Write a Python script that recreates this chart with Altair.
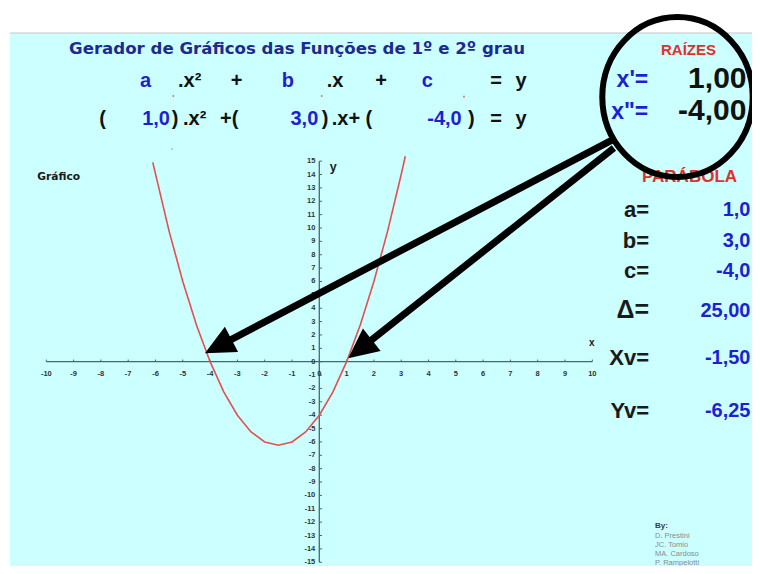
import math
import altair as alt
import pandas as pd

# ---------------- data ----------------
curve_x = [-6.1, -5.5, -5.0, -4.5, -4.0, -3.5, -3.0, -2.5, -2.0, -1.5, -1.0,
           -0.5, 0.0, 0.5, 1.0, 1.5, 2.0, 2.5, 3.0, 3.15]
curve_y = [14.91, 9.75, 6.0, 2.75, 0.0, -2.25, -4.0, -5.25, -6.0, -6.25, -6.0,
           -5.25, -4.0, -2.25, 0.0, 2.75, 6.0, 9.75, 14.0, 15.37]
x_ticks = list(range(-10, 11))
y_ticks = list(range(-15, 16))

title = "Gerador de Gráficos das Funções de 1º e 2º grau"
coef_a, coef_b, coef_c = "1,0", "3,0", "-4,0"
root_labels = ["x'=", 'x"=']
root_values = ["1,00", "-4,00"]
param_labels = ["a=", "b=", "c=", "Δ=", "Xv=", "Yv="]
param_values = ["1,0", "3,0", "-4,0", "25,00", "-1,50", "-6,25"]
authors = ["D. Prestini", "JC. Tomio", "MA. Cardoso", "P. Rampelotti"]

# arrows (data units): start near the circle, tip at the roots
arrow_start_x = [10.72, 10.79]
arrow_start_y = [16.58, 15.98]
arrow_tip_x = [-4.19, 1.06]
arrow_tip_y = [0.63, 0.25]

# ---------------- geometry ----------------
W, H = 744, 558
OFF = 8
X0, Y0 = 319.3 - OFF, 361.7 - OFF
PX, PY = 27.3, 13.37
xs = alt.Scale(domain=[-X0 / PX, (W - X0) / PX], nice=False, zero=False)
ys = alt.Scale(domain=[-(H - Y0) / PY, Y0 / PY], nice=False, zero=False)

AX = "#4e6666"
BLUE = "#1f1fd2"
NAVY = "#1d2b8f"
RED = "#e0302c"
ARIAL = "Liberation Sans"
TAHOMA = "DejaVu Sans"

layers = []

# background
bg = pd.DataFrame({"k": [0]})
layers.append(alt.Chart(bg).mark_rect(color="#ccffff").encode(
    x=alt.value(2), x2=alt.value(W), y=alt.value(33 - OFF), y2=alt.value(H)))
layers.append(alt.Chart(bg).mark_rule(color="#c4c4c4", strokeWidth=1).encode(
    x=alt.value(2), x2=alt.value(W), y=alt.value(33 - OFF)))


def X(f, **kw):
    return alt.X(f, type="quantitative", scale=xs, axis=None, **kw)


def Y(f, **kw):
    return alt.Y(f, type="quantitative", scale=ys, axis=None, **kw)


# axes
axdf = pd.DataFrame({"x1": [x_ticks[0], 0], "x2": [x_ticks[-1], 0],
                     "y1": [0, y_ticks[0]], "y2": [0, y_ticks[-1]]})
layers.append(alt.Chart(axdf).mark_rule(color=AX, strokeWidth=1.3).encode(
    x=X("x1"), x2="x2", y=Y("y1"), y2="y2"))

xt = pd.DataFrame({"v": x_ticks, "z": 0, "t": 0.16, "lab": [str(v) for v in x_ticks]})
yt = pd.DataFrame({"v": y_ticks, "z": 0, "t": 0.1, "lab": [str(v) for v in y_ticks]})
layers.append(alt.Chart(xt).mark_rule(color=AX, strokeWidth=1).encode(
    x=X("v"), y=Y("z"), y2="t"))
layers.append(alt.Chart(yt).mark_rule(color=AX, strokeWidth=1).encode(
    y=Y("v"), x=X("z"), x2="t"))
layers.append(alt.Chart(xt).mark_text(font=ARIAL, fontSize=7.5, fontWeight="bold",
                                      color="#333333", dy=12.5, baseline="middle").encode(
    x=X("v"), y=Y("z"), text="lab:N"))
layers.append(alt.Chart(yt).mark_text(font=ARIAL, fontSize=7.5, fontWeight="bold",
                                      color="#333333", dx=-4, align="right",
                                      baseline="middle").encode(
    x=X("z"), y=Y("v"), text="lab:N"))

# curve
cdf = pd.DataFrame({"x": curve_x, "y": curve_y, "o": range(len(curve_x))})
layers.append(alt.Chart(cdf).mark_line(color="#e25050", strokeWidth=1.6).encode(
    x=X("x"), y=Y("y"), order="o:Q"))


def txt(s, px, py, size, color, align="left", font=ARIAL, weight="bold"):
    return alt.Chart(pd.DataFrame({"t": [s]})).mark_text(
        align=align, baseline="alphabetic", font=font, fontSize=size,
        fontWeight=weight, color=color).encode(
        text="t:N", x=alt.value(px - OFF), y=alt.value(py - OFF))


# title and equations
layers.append(txt(title, 297, 54, 16.6, NAVY, align="center", font=TAHOMA))
r2 = 86.7
layers += [
    txt("a", 140, r2, 20, BLUE), txt(".x²", 178, r2, 20, "#111"),
    txt("+", 236.7, r2, 20, "#111", "center"), txt("b", 281.7, r2, 20, BLUE),
    txt(".x", 326.7, r2, 20, "#111"), txt("+", 381, r2, 20, "#111", "center"),
    txt("c", 421.7, r2, 20, BLUE), txt("=", 496, r2, 20, "#111", "center"),
    txt("y", 521, r2, 20, "#111", "center"),
]
r3 = 125
layers += [
    txt("(", 102.5, r3, 20, "#111", "center"), txt(coef_a, 170, r3, 20, BLUE, "right"),
    txt(")", 171.7, r3, 20, "#111"), txt(".x²", 183, r3, 20, "#111"),
    txt("+(", 220, r3, 20, "#111"), txt(coef_b, 318.3, r3, 20, BLUE, "right"),
    txt(")", 321.7, r3, 20, "#111"), txt(".x+ (", 331.7, r3, 20, "#111"),
    txt(coef_c, 461.7, r3, 20, BLUE, "right"), txt(")", 468, r3, 20, "#111"),
    txt("=", 496, r3, 20, "#111", "center"), txt("y", 521, r3, 20, "#111", "center"),
]

# small comment markers
dots = pd.DataFrame({"k": [0]})
for (dx_, dy_, col) in [(173.3, 96, "#e05050"), (321.7, 96, "#e05050"),
                        (464, 96.7, "#e05050"), (172, 149, "#9aa")]:
    layers.append(alt.Chart(dots).mark_square(size=3, color=col, opacity=0.8).encode(
        x=alt.value(dx_ - OFF), y=alt.value(dy_ - OFF)))

# right panel
RV = 750.5
layers.append(txt("RAÍZES", 688.5, 54.5, 15, RED, "center"))
layers.append(txt(root_labels[0], 648.3, 87, 23, BLUE, "right"))
layers.append(txt(root_labels[1], 648.3, 119, 23, BLUE, "right"))
layers.append(txt(root_values[0], 746.5, 88.3, 30, "#111", "right"))
layers.append(txt(root_values[1], 746.5, 120, 30, "#111", "right"))
layers.append(txt("PARÁBOLA", 689.5, 182, 17, RED, "center"))
lab_base = [216.7, 248.3, 278.3, 318.3, 365, 418]
lab_size = [22, 22, 22, 25, 22, 22]
for lab, val, b, s in zip(param_labels, param_values, lab_base, lab_size):
    layers.append(txt(lab, 649, b, s, "#1a1a1a", "right"))
    layers.append(txt(val, RV, b - 1, 20, BLUE, "right"))

# captions
layers.append(txt("Gráfico", 37.3, 179.5, 10.7, "#1a1a1a", font=TAHOMA))
layers.append(txt("y", 333.3, 170.5, 12.5, "#1a1a1a", "center"))
layers.append(txt("x", 591.7, 346, 10, "#1a1a1a", "center"))
layers.append(txt("By:", 655, 527.5, 8, "#3a3a3a"))
for i, a in enumerate(authors):
    layers.append(txt(a, 655, 537.5 + i * 9, 7.5, "#8a8a8a", weight="normal"))

# arrows
rows = []
for sx, sy, tx, ty in zip(arrow_start_x, arrow_start_y, arrow_tip_x, arrow_tip_y):
    dxp = (tx - sx) * PX
    dyp = -(ty - sy) * PY
    n = math.hypot(dxp, dyp)
    ux, uy = dxp / n, dyp / n
    ang = math.degrees(math.atan2(ux, -uy)) % 360
    rows.append({"sx": sx, "sy": sy,
                 "ex": tx - 22 * ux / PX, "ey": ty + 22 * uy / PY,
                 "cx": tx - 15 * ux / PX, "cy": ty + 15 * uy / PY, "ang": ang})
adf = pd.DataFrame(rows)
layers.append(alt.Chart(adf).mark_rule(color="black", strokeWidth=7, strokeCap="butt").encode(
    x=X("sx"), y=Y("sy"), x2="ex", y2="ey"))
layers.append(alt.Chart(adf).mark_point(
    shape="M0,-1L0.95,1L-0.95,1Z", filled=True, color="black", opacity=1,
    size=900, strokeWidth=0).encode(
    x=X("cx"), y=Y("cy"), angle=alt.Angle("ang:Q", scale=None)))

# circle
layers.append(alt.Chart(bg).mark_point(
    shape="M0.94,0A0.94,1 0 1,1 -0.94,0A0.94,1 0 1,1 0.94,0Z",
    filled=False, color="black", opacity=1, size=80 * 80 * 4, strokeWidth=6).encode(
    x=alt.value(677.5 - OFF), y=alt.value(97 - OFF)))

chart = alt.layer(*layers).properties(
    width=W, height=H, padding=0, autosize="none", background="white"
).configure_view(stroke=None)

chart.save("out.html", embed_options={"renderer": "svg", "actions": False})
